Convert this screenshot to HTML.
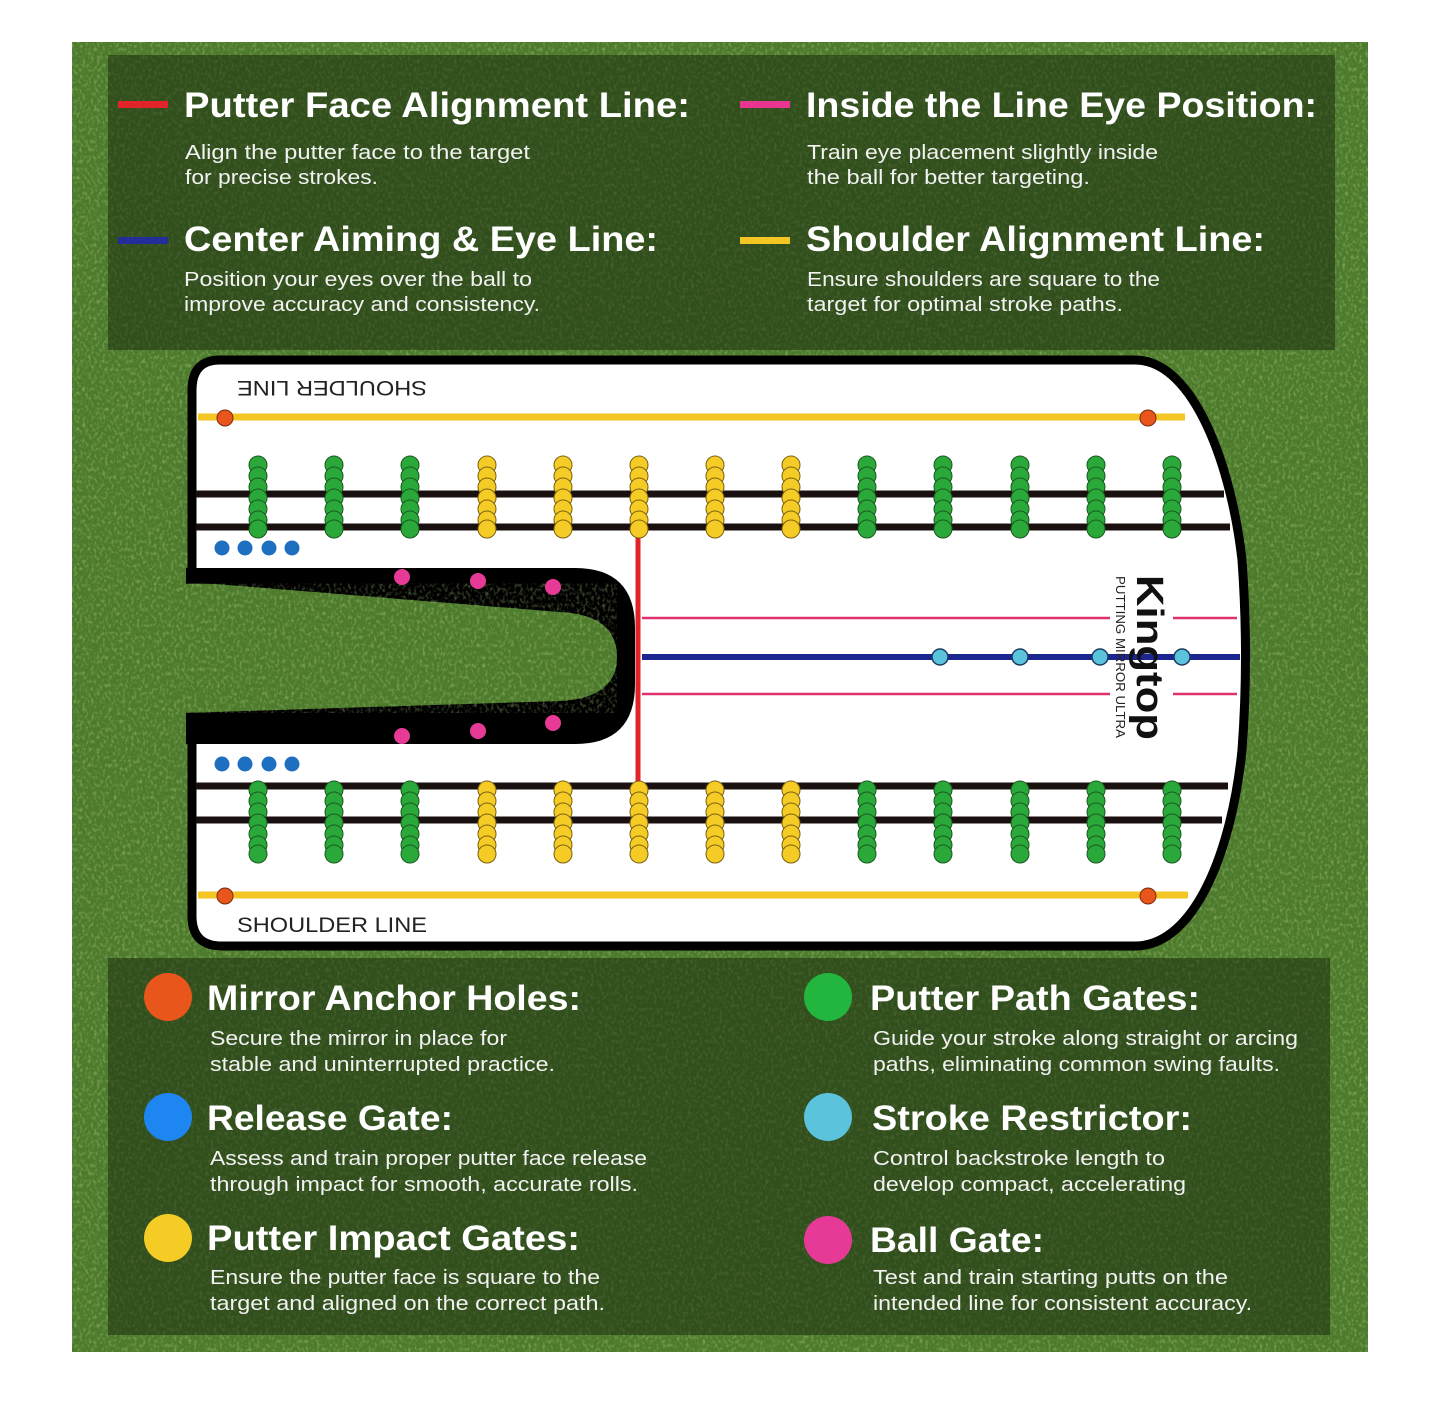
<!DOCTYPE html>
<html><head><meta charset="utf-8"><style>
html,body{margin:0;padding:0;background:#fff;}
svg{display:block;}
text{font-family:"Liberation Sans",sans-serif;}
.h{font-size:35px;font-weight:bold;fill:#fff;}
.d{font-size:20px;fill:#f2f2f2;}
</style></head><body>
<svg width="1440" height="1407" viewBox="0 0 1440 1407" xmlns="http://www.w3.org/2000/svg">
<defs>
<filter id="noise" x="0" y="0" width="100%" height="100%">
<feTurbulence type="fractalNoise" baseFrequency="0.35 0.25" numOctaves="2" seed="3"/>
<feColorMatrix type="matrix" values="0 0 0 0 0.55  0 0 0 0 0.8  0 0 0 0 0.3  0 0 0 1.6 -0.75"/>
</filter>
<g id="gg">
<circle cx="0" cy="0" r="9" /><circle cx="0" cy="11" r="9"/><circle cx="0" cy="22" r="9"/><circle cx="0" cy="33" r="9"/><circle cx="0" cy="44" r="9"/><circle cx="0" cy="55" r="9"/><circle cx="0" cy="64" r="9"/>
</g>
</defs>
<rect x="72" y="42" width="1296" height="1310" fill="#4d7a2c"/>
<rect x="72" y="42" width="1296" height="1310" filter="url(#noise)" opacity="0.6"/>
<rect x="108" y="55" width="1227" height="295" fill="#1c2c10" opacity="0.55"/>
<rect x="108" y="958" width="1222" height="377" fill="#1c2c10" opacity="0.55"/>

<g lengthAdjust="spacingAndGlyphs">
<rect x="118" y="101" width="50" height="7" fill="#e0242a"/>
<text class="h" x="184" y="117" textLength="506" lengthAdjust="spacingAndGlyphs">Putter Face Alignment Line:</text>
<text class="d" x="185" y="159" textLength="345" lengthAdjust="spacingAndGlyphs">Align the putter face to the target</text>
<text class="d" x="185" y="184" textLength="193" lengthAdjust="spacingAndGlyphs">for precise strokes.</text>
<rect x="740" y="101" width="50" height="7" fill="#e8358f"/>
<text class="h" x="806" y="117" textLength="511" lengthAdjust="spacingAndGlyphs">Inside the Line Eye Position:</text>
<text class="d" x="807" y="159" textLength="351" lengthAdjust="spacingAndGlyphs">Train eye placement slightly inside</text>
<text class="d" x="807" y="184" textLength="283" lengthAdjust="spacingAndGlyphs">the ball for better targeting.</text>
<rect x="118" y="237" width="50" height="7" fill="#232e9a"/>
<text class="h" x="184" y="251" textLength="474" lengthAdjust="spacingAndGlyphs">Center Aiming &amp; Eye Line:</text>
<text class="d" x="184" y="286" textLength="348" lengthAdjust="spacingAndGlyphs">Position your eyes over the ball to</text>
<text class="d" x="184" y="311" textLength="356" lengthAdjust="spacingAndGlyphs">improve accuracy and consistency.</text>
<rect x="740" y="237" width="50" height="7" fill="#f3c623"/>
<text class="h" x="806" y="251" textLength="459" lengthAdjust="spacingAndGlyphs">Shoulder Alignment Line:</text>
<text class="d" x="807" y="286" textLength="353" lengthAdjust="spacingAndGlyphs">Ensure shoulders are square to the</text>
<text class="d" x="807" y="311" textLength="316" lengthAdjust="spacingAndGlyphs">target for optimal stroke paths.</text>
</g>

<!-- mirror -->
<path d="M220 360 H1135 C1195 360 1232 470 1242 560 Q1249 657 1242 750 C1232 850 1195 946 1135 946 H222 Q192 946 192 916 V390 Q192 360 220 360 Z" fill="#fff" stroke="#000" stroke-width="9"/>
<path d="M186 568 H575 Q635 568 635 628 V684 Q635 744 575 744 H186 Z" fill="#000"/>
<path d="M150 585 Q190 583 215 584 L560 612 Q617 615 617 657 Q617 698 560 701 L215 712 Q190 713 150 713 Z" fill="#4d7a2c"/>
<path d="M150 585 Q190 583 215 584 L560 612 Q617 615 617 657 Q617 698 560 701 L215 712 Q190 713 150 713 Z" filter="url(#noise)" opacity="0.6"/>

<text x="237" y="397" font-size="21" fill="#222" transform="rotate(180 332 389)" textLength="190" lengthAdjust="spacingAndGlyphs">SHOULDER LINE</text>
<text x="237" y="932" font-size="21" fill="#222" textLength="190" lengthAdjust="spacingAndGlyphs">SHOULDER LINE</text>

<line x1="198" y1="417" x2="1185" y2="417" stroke="#f3c623" stroke-width="7"/>
<line x1="198" y1="895" x2="1188" y2="895" stroke="#f3c623" stroke-width="7"/>
<circle cx="225" cy="418" r="8" fill="#e8561c" stroke="#7a2a0a"/>
<circle cx="1148" cy="418" r="8" fill="#e8561c" stroke="#7a2a0a"/>
<circle cx="225" cy="896" r="8" fill="#e8561c" stroke="#7a2a0a"/>
<circle cx="1148" cy="896" r="8" fill="#e8561c" stroke="#7a2a0a"/>

<g stroke="#1a1010" stroke-width="7">
<line x1="196" y1="494" x2="1224" y2="494"/><line x1="196" y1="527" x2="1230" y2="527"/>
<line x1="196" y1="786" x2="1228" y2="786"/><line x1="196" y1="820" x2="1222" y2="820"/>
</g>
<line x1="638" y1="530" x2="638" y2="783" stroke="#e0242a" stroke-width="5"/>
<g stroke="#e0306f" stroke-width="2.5">
<line x1="642" y1="618" x2="1110" y2="618"/><line x1="1173" y1="618" x2="1237" y2="618"/>
<line x1="642" y1="694" x2="1110" y2="694"/><line x1="1173" y1="694" x2="1237" y2="694"/>
</g>
<line x1="642" y1="657" x2="1240" y2="657" stroke="#1c2690" stroke-width="6"/>
<g fill="#5cc3dc" stroke="#1c3a60" stroke-width="1.5">
<circle cx="940" cy="657" r="8"/><circle cx="1020" cy="657" r="8"/><circle cx="1100" cy="657" r="8"/><circle cx="1182" cy="657" r="8"/>
</g>
<g fill="#1f6fc0">
<circle cx="222" cy="548" r="7.5"/><circle cx="245" cy="548" r="7.5"/><circle cx="269" cy="548" r="7.5"/><circle cx="292" cy="548" r="7.5"/>
<circle cx="222" cy="764" r="7.5"/><circle cx="245" cy="764" r="7.5"/><circle cx="269" cy="764" r="7.5"/><circle cx="292" cy="764" r="7.5"/>
</g>
<g fill="#e63a96">
<circle cx="402" cy="577" r="8"/><circle cx="478" cy="581" r="8"/><circle cx="553" cy="587" r="8"/>
<circle cx="402" cy="736" r="8"/><circle cx="478" cy="731" r="8"/><circle cx="553" cy="723" r="8"/>
</g>

<g fill="#2aa83a" stroke="#1a5a20" stroke-width="1">
<use href="#gg" x="258" y="465"/><use href="#gg" x="334" y="465"/><use href="#gg" x="410" y="465"/>
<use href="#gg" x="867" y="465"/><use href="#gg" x="943" y="465"/><use href="#gg" x="1020" y="465"/><use href="#gg" x="1096" y="465"/><use href="#gg" x="1172" y="465"/>
<use href="#gg" x="258" y="790"/><use href="#gg" x="334" y="790"/><use href="#gg" x="410" y="790"/>
<use href="#gg" x="867" y="790"/><use href="#gg" x="943" y="790"/><use href="#gg" x="1020" y="790"/><use href="#gg" x="1096" y="790"/><use href="#gg" x="1172" y="790"/>
</g>
<g fill="#f5cc25" stroke="#7a6010" stroke-width="1">
<use href="#gg" x="487" y="465"/><use href="#gg" x="563" y="465"/><use href="#gg" x="639" y="465"/><use href="#gg" x="715" y="465"/><use href="#gg" x="791" y="465"/>
<use href="#gg" x="487" y="790"/><use href="#gg" x="563" y="790"/><use href="#gg" x="639" y="790"/><use href="#gg" x="715" y="790"/><use href="#gg" x="791" y="790"/>
</g>

<text x="1137" y="575" font-size="38" font-weight="bold" fill="#111" transform="rotate(90 1137 575)" textLength="165" lengthAdjust="spacingAndGlyphs">Kingtop</text>
<text x="1116" y="576" font-size="13" fill="#222" transform="rotate(90 1116 576)" textLength="162" lengthAdjust="spacingAndGlyphs">PUTTING MIRROR ULTRA</text>

<!-- bottom legend -->
<circle cx="168" cy="997" r="24" fill="#e8561c"/>
<text class="h" x="207" y="1010" textLength="374" lengthAdjust="spacingAndGlyphs">Mirror Anchor Holes:</text>
<text class="d" x="210" y="1045" textLength="297" lengthAdjust="spacingAndGlyphs">Secure the mirror in place for</text>
<text class="d" x="210" y="1071" textLength="345" lengthAdjust="spacingAndGlyphs">stable and uninterrupted practice.</text>
<circle cx="168" cy="1117" r="24" fill="#1e86f0"/>
<text class="h" x="207" y="1130" textLength="246" lengthAdjust="spacingAndGlyphs">Release Gate:</text>
<text class="d" x="210" y="1165" textLength="437" lengthAdjust="spacingAndGlyphs">Assess and train proper putter face release</text>
<text class="d" x="210" y="1191" textLength="428" lengthAdjust="spacingAndGlyphs">through impact for smooth, accurate rolls.</text>
<circle cx="168" cy="1238" r="24" fill="#f5cc25"/>
<text class="h" x="207" y="1250" textLength="373" lengthAdjust="spacingAndGlyphs">Putter Impact Gates:</text>
<text class="d" x="210" y="1284" textLength="390" lengthAdjust="spacingAndGlyphs">Ensure the putter face is square to the</text>
<text class="d" x="210" y="1310" textLength="395" lengthAdjust="spacingAndGlyphs">target and aligned on the correct path.</text>

<circle cx="828" cy="997" r="24" fill="#23b63e"/>
<text class="h" x="870" y="1010" textLength="330" lengthAdjust="spacingAndGlyphs">Putter Path Gates:</text>
<text class="d" x="873" y="1045" textLength="425" lengthAdjust="spacingAndGlyphs">Guide your stroke along straight or arcing</text>
<text class="d" x="873" y="1071" textLength="407" lengthAdjust="spacingAndGlyphs">paths, eliminating common swing faults.</text>
<circle cx="828" cy="1117" r="24" fill="#5cc3dc"/>
<text class="h" x="872" y="1130" textLength="320" lengthAdjust="spacingAndGlyphs">Stroke Restrictor:</text>
<text class="d" x="873" y="1165" textLength="292" lengthAdjust="spacingAndGlyphs">Control backstroke length to</text>
<text class="d" x="873" y="1191" textLength="313" lengthAdjust="spacingAndGlyphs">develop compact, accelerating</text>
<circle cx="828" cy="1240" r="24" fill="#e63a96"/>
<text class="h" x="870" y="1252" textLength="174" lengthAdjust="spacingAndGlyphs">Ball Gate:</text>
<text class="d" x="873" y="1284" textLength="355" lengthAdjust="spacingAndGlyphs">Test and train starting putts on the</text>
<text class="d" x="873" y="1310" textLength="379" lengthAdjust="spacingAndGlyphs">intended line for consistent accuracy.</text>
</svg>
</body></html>
